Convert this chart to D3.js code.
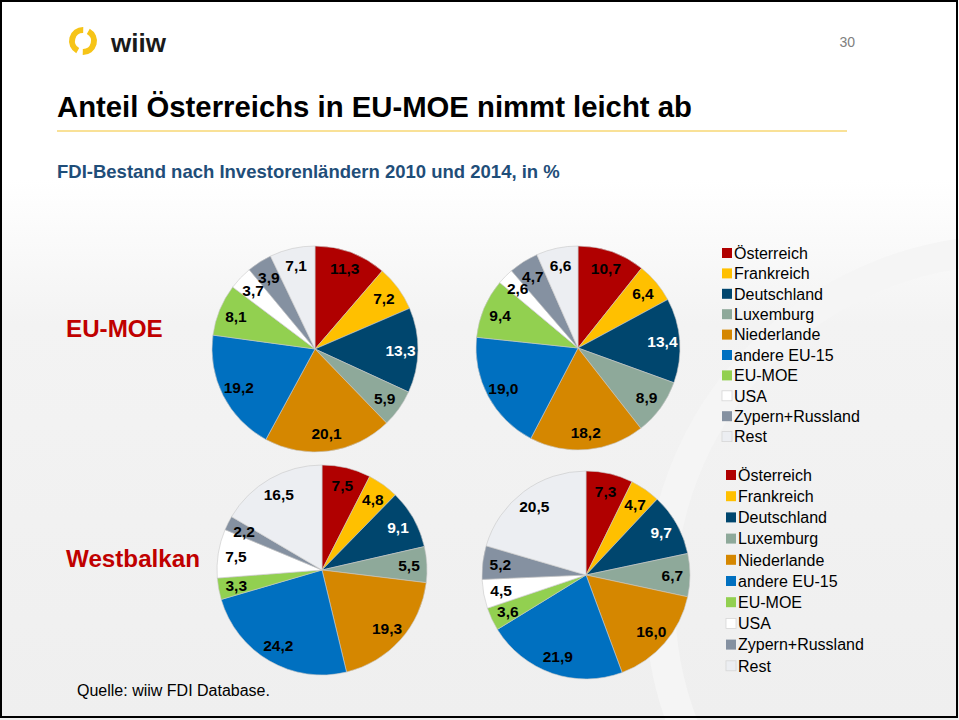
<!DOCTYPE html>
<html>
<head>
<meta charset="utf-8">
<script src="https://cdn.jsdelivr.net/npm/d3@7"></script>
<style>
  body { margin: 0; background: #fff; }
  svg { display: block; font-family: "Liberation Sans", Arial, sans-serif; }
</style>
</head>
<body>
<svg id="chart" width="959" height="720"></svg>
<script>

var categories = ["Österreich", "Frankreich", "Deutschland", "Luxemburg", "Niederlande",
                  "andere EU-15", "EU-MOE", "USA", "Zypern+Russland", "Rest"];
var colors = ["#b00000", "#ffc000", "#00466e", "#8ea99a", "#d58700",
              "#0070c0", "#92d050", "#ffffff", "#8591a1", "#eceef2"];

var euMoe2010 = [11.3, 7.2, 13.3, 5.9, 20.1, 19.2, 8.1, 3.7, 3.9, 7.1];
var euMoe2014 = [10.7, 6.4, 13.4, 8.9, 18.2, 19.0, 9.4, 2.6, 4.7, 6.6];
var wb2010 = [7.5, 4.8, 9.1, 5.5, 19.3, 24.2, 3.3, 7.5, 2.2, 16.5];
var wb2014 = [7.3, 4.7, 9.7, 6.7, 16.0, 21.9, 3.6, 4.5, 5.2, 20.5];

var rowLabels = ["EU-MOE", "Westbalkan"];

var svg = d3.select("#chart");
var defs = svg.append("defs");

// background
var grad = defs.append("linearGradient")
    .attr("id", "bg").attr("x1", 0).attr("y1", 0).attr("x2", 0).attr("y2", 1);
grad.append("stop").attr("offset", "0%").attr("stop-color", "#ffffff");
grad.append("stop").attr("offset", "25%").attr("stop-color", "#ffffff");
grad.append("stop").attr("offset", "45%").attr("stop-color", "#f3f3f3");
grad.append("stop").attr("offset", "100%").attr("stop-color", "#efefef");

svg.append("rect").attr("width", 959).attr("height", 720).attr("fill", "url(#bg)");

// faint swoosh on the right
svg.append("circle")
    .attr("cx", 1010).attr("cy", 600).attr("r", 350)
    .attr("fill", "none").attr("stroke", "#f5f5f5").attr("stroke-width", 30);

svg.append("rect")
    .attr("x", 1).attr("y", 1).attr("width", 956).attr("height", 716)
    .attr("fill", "none").attr("stroke", "#000").attr("stroke-width", 2);

// logo
var logoArc = d3.arc().innerRadius(8).outerRadius(14);
var logo = svg.append("g").attr("transform", "translate(83,41)");
logo.append("path")
    .attr("d", logoArc({startAngle: 0.5, endAngle: Math.PI + 0.02}))
    .attr("fill", "#f6c417");
logo.append("path")
    .attr("d", logoArc({startAngle: Math.PI + 0.5, endAngle: 2 * Math.PI + 0.02}))
    .attr("fill", "#f6c417");
svg.append("text").attr("x", 111).attr("y", 52)
    .attr("font-size", 26).attr("font-weight", "bold").attr("fill", "#1a1a1a")
    .text("wiiw");

svg.append("text").attr("x", 855).attr("y", 47).attr("text-anchor", "end")
    .attr("font-size", 14).attr("fill", "#808080").text("30");

// titles
svg.append("text").attr("x", 57).attr("y", 117)
    .attr("font-size", 29.3).attr("font-weight", "bold").attr("fill", "#000")
    .text("Anteil Österreichs in EU-MOE nimmt leicht ab");
svg.append("line").attr("x1", 57).attr("x2", 847).attr("y1", 131).attr("y2", 131)
    .attr("stroke", "#f4c430").attr("stroke-width", 1.2);
svg.append("text").attr("x", 57).attr("y", 178)
    .attr("font-size", 18.5).attr("font-weight", "bold").attr("fill", "#1f4e79")
    .text("FDI-Bestand nach Investorenländern 2010 und 2014, in %");

svg.selectAll(".row-label").data(rowLabels).enter().append("text")
    .attr("class", "row-label")
    .attr("x", 66)
    .attr("y", function(d, i) { return [337, 567][i]; })
    .attr("font-size", 24.2).attr("font-weight", "bold").attr("fill", "#c00000")
    .text(function(d) { return d; });

// pies
var color = d3.scaleOrdinal().domain(categories).range(colors);
var pie = d3.pie().sort(null).value(function(d) { return d.value; });

var draw_pie = function(values, cx, cy, r) {

    var data = categories.map(function(c, i) { return {name: c, value: values[i]}; });
    var arc = d3.arc().innerRadius(0).outerRadius(r);
    var labelArc = d3.arc().innerRadius(r * 0.83).outerRadius(r * 0.83);

    var g = svg.append("g").attr("transform", "translate(" + cx + "," + cy + ")");

    g.selectAll("path").data(pie(data)).enter().append("path")
        .attr("d", arc)
        .attr("fill", function(d) { return color(d.data.name); })
        .attr("stroke", "#c8c8c8").attr("stroke-width", 0.6);

    g.selectAll("text").data(pie(data)).enter().append("text")
        .attr("transform", function(d) {
            var p = labelArc.centroid(d);
            return "translate(" + p[0] + "," + p[1] + ")";
        })
        .attr("text-anchor", "middle").attr("dy", "0.36em")
        .attr("font-size", 15.5).attr("font-weight", "bold")
        .attr("fill", function(d) { return d.data.name == "Deutschland" ? "#fff" : "#000"; })
        .text(function(d) { return d3.format(".1f")(d.data.value).replace(".", ","); });
};

draw_pie(euMoe2010, 315, 349, 103);
draw_pie(euMoe2014, 578, 348, 102);
draw_pie(wb2010, 322, 570, 105);
draw_pie(wb2014, 586, 575, 104);

// legends
var draw_legend = function(x, y0, step) {

    var lg = svg.append("g").attr("transform", "translate(" + x + "," + y0 + ")");
    var item = lg.selectAll("g").data(categories).enter().append("g")
        .attr("transform", function(d, i) { return "translate(0," + (i * step) + ")"; });

    item.append("rect").attr("x", 0).attr("y", -5).attr("width", 10).attr("height", 10)
        .attr("fill", function(d) { return color(d); })
        .attr("stroke", function(d) { return (d == "USA" || d == "Rest") ? "#d6d6d6" : "none"; })
        .attr("stroke-width", 0.8);

    item.append("text").attr("x", 12).attr("dy", "0.36em")
        .attr("font-size", 16).attr("fill", "#000")
        .text(function(d) { return d; });
};

draw_legend(722, 253, 20.4);
draw_legend(726, 475, 21.2);

svg.append("text").attr("x", 77).attr("y", 696)
    .attr("font-size", 16).attr("fill", "#000")
    .text("Quelle: wiiw FDI Database.");

</script>
</body>
</html>
